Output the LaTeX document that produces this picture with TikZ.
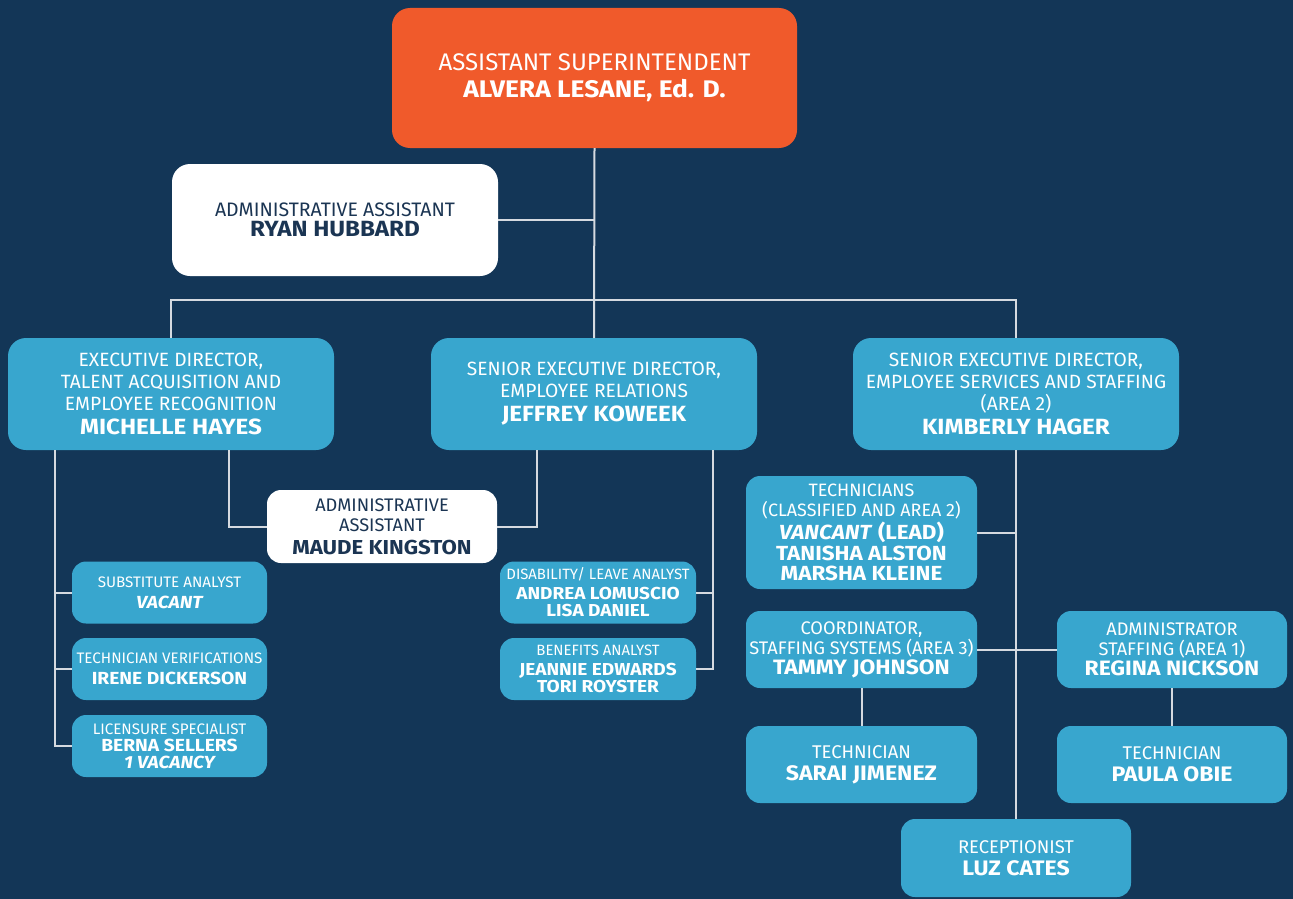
\documentclass[tikz,border=0pt]{standalone}
\usepackage{fontspec}
\setmainfont{Fira Sans}
\newfontfamily\namef{Fira Sans}[FakeStretch=1.1]
\definecolor{bg}{HTML}{133657}
\definecolor{boxblue}{HTML}{38A6CE}
\definecolor{orangebox}{HTML}{F05A2B}
\definecolor{navytext}{HTML}{1B3553}
\definecolor{linec}{HTML}{D5DAE0}
\newcommand\nmX[2]{{\namef\fontsize{#1}{#1}\selectfont\bfseries #2}}
\tikzset{
  box/.style={rounded corners=14pt, inner sep=0pt, outer sep=0pt, align=center, text=white, fill=boxblue},
  wbox/.style={box, fill=white, text=navytext},
  obox/.style={box, fill=orangebox},
  bigbox/.style={rounded corners=18pt, minimum width=326pt, minimum height=112pt},
  smallbox/.style={minimum width=195pt, minimum height=62pt},
  midbox/.style={minimum width=231pt, minimum height=77pt},
  conn/.style={draw=linec, line width=2pt}
}
\begin{document}
\begin{tikzpicture}[x=1pt,y=-1pt]
\useasboundingbox (0,0) rectangle (1293,899);
\fill[bg] (0,0) rectangle (1293,899);

% top level
\node[obox, rounded corners=18pt, minimum width=405pt, minimum height=140pt, font=\fontsize{24}{27}\selectfont] (top) at (594.5,78)
  {ASSISTANT SUPERINTENDENT\\\nmX{24}{ALVERA LESANE, Ed. D.}};
\node[wbox, bigbox, font=\fontsize{19.5}{20}\selectfont] (ryan) at (335,220)
  {ADMINISTRATIVE ASSISTANT\\\nmX{22}{RYAN HUBBARD}};

% directors
\node[box, bigbox, font=\fontsize{19.2}{22}\selectfont] (mich) at (171,394)
  {EXECUTIVE DIRECTOR,\\TALENT ACQUISITION AND\\EMPLOYEE RECOGNITION\\[2pt]\nmX{22}{MICHELLE HAYES}};
\node[box, bigbox, font=\fontsize{19.2}{22}\selectfont] (jeff) at (594,394)
  {SENIOR EXECUTIVE DIRECTOR,\\EMPLOYEE RELATIONS\\[2pt]\nmX{22}{JEFFREY KOWEEK}};
\node[box, bigbox, font=\fontsize{19.2}{22}\selectfont] (kim) at (1016,394)
  {SENIOR EXECUTIVE DIRECTOR,\\EMPLOYEE SERVICES AND STAFFING\\(AREA 2)\\[2pt]\nmX{22}{KIMBERLY HAGER}};

% admin assistant
\node[wbox, minimum width=230pt, minimum height=73pt, font=\fontsize{18.2}{20}\selectfont] (maude) at (382,526.5)
  {ADMINISTRATIVE\\ASSISTANT\\[3pt]\nmX{20.2}{MAUDE KINGSTON}};

% left column
\node[box, smallbox, font=\fontsize{15.2}{21}\selectfont] (sub) at (169.5,592.5)
  {SUBSTITUTE ANALYST\\\nmX{17.5}{\itshape VACANT}};
\node[box, smallbox, font=\fontsize{15.2}{21}\selectfont] (tver) at (169.5,669)
  {TECHNICIAN VERIFICATIONS\\\nmX{17.5}{IRENE DICKERSON}};
\node[box, smallbox, font=\fontsize{15.2}{17}\selectfont] (lic) at (169.5,746)
  {LICENSURE SPECIALIST\\\nmX{17.5}{BERNA SELLERS}\\\nmX{17.5}{\itshape 1 VACANCY}};

% middle column
\node[box, smallbox, minimum width=196pt, font=\fontsize{14.9}{17}\selectfont] (dis) at (598,592.5)
  {DISABILITY/ LEAVE ANALYST\\[3pt]\nmX{17.3}{ANDREA LOMUSCIO}\\\nmX{17.3}{LISA DANIEL}};
\node[box, smallbox, minimum width=196pt, font=\fontsize{14.9}{17}\selectfont] (ben) at (598,669)
  {BENEFITS ANALYST\\[3pt]\nmX{17.3}{JEANNIE EDWARDS}\\\nmX{17.3}{TORI ROYSTER}};

% right column
\node[box, minimum width=231pt, minimum height=113pt, font=\fontsize{17.9}{20}\selectfont] (tech) at (861.5,532.5)
  {TECHNICIANS\\(CLASSIFIED AND AREA 2)\\[2pt]\nmX{20.4}{\textit{VANCANT} (LEAD)}\\[1pt]\nmX{20.4}{TANISHA ALSTON}\\\nmX{20.4}{MARSHA KLEINE}};
\node[box, midbox, font=\fontsize{18.2}{20}\selectfont] (coord) at (861.5,649.5)
  {COORDINATOR,\\STAFFING SYSTEMS (AREA 3)\\\nmX{20.8}{TAMMY JOHNSON}};
\node[box, midbox, minimum width=230pt, font=\fontsize{18.2}{20}\selectfont] (admin) at (1172,649.5)
  {ADMINISTRATOR\\STAFFING (AREA 1)\\\nmX{20.8}{REGINA NICKSON}};
\node[box, midbox, font=\fontsize{18.4}{22}\selectfont] (sarai) at (861.5,764.5)
  {TECHNICIAN\\\nmX{21}{SARAI JIMENEZ}};
\node[box, midbox, minimum width=230pt, font=\fontsize{18.4}{22}\selectfont] (paula) at (1172,764.5)
  {TECHNICIAN\\\nmX{21}{PAULA OBIE}};
\node[box, midbox, minimum width=230pt, minimum height=78pt, font=\fontsize{18.4}{22}\selectfont] (rec) at (1016,858)
  {RECEPTIONIST\\\nmX{21}{LUZ CATES}};

% connectors
\coordinate (bus) at (594,300);
\draw[conn] (top.south) -- (jeff.north);
\draw[conn] (ryan.east) -- (ryan.east -| top.south);
\draw[conn] (mich.north) |- (bus) -| (kim.north);
\draw[conn] ([xshift=58pt]mich.south) |- (maude.west);
\draw[conn] ([xshift=-57pt]jeff.south) |- (maude.east);
\coordinate (ls) at ([xshift=-116pt]mich.south);
\draw[conn] (ls) |- (lic.west);
\draw[conn] (sub.west) -- (sub.west -| ls);
\draw[conn] (tver.west) -- (tver.west -| ls);
\coordinate (ms) at ([xshift=119pt]jeff.south);
\draw[conn] (ms) |- (ben.east);
\draw[conn] (dis.east) -- (dis.east -| ms);
\draw[conn] (kim.south) -- (rec.north);
\draw[conn] (tech.east) -- (tech.east -| kim.south);
\draw[conn] (coord.east) -- (admin.west);
\draw[conn] (coord.south) -- (sarai.north);
\draw[conn] (admin.south) -- (paula.north);
\end{tikzpicture}
\end{document}
